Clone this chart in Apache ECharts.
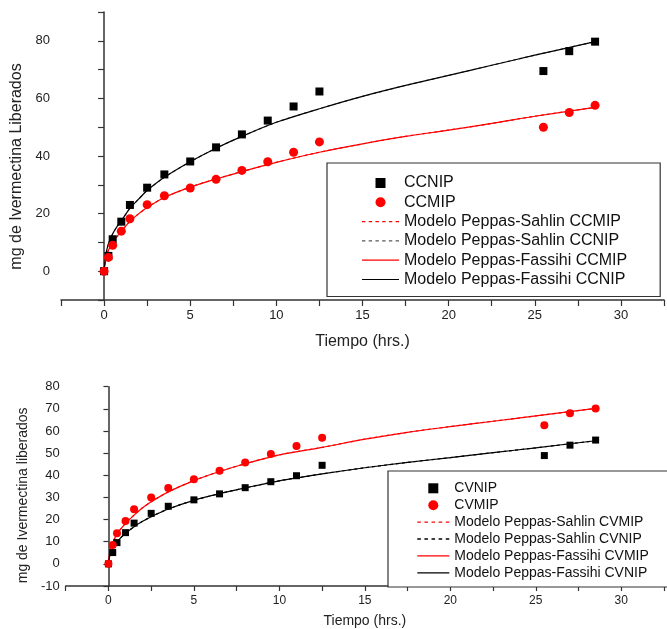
<!DOCTYPE html>
<html>
<head>
<meta charset="utf-8">
<script src="https://cdn.jsdelivr.net/npm/echarts@6/dist/echarts.min.js"></script>
<style>
html,body{margin:0;padding:0;background:#fff;}
#c{width:667px;height:629px;}
</style>
</head>
<body>
<div id="c"></div>
<script>
// ---- Top chart data (CCNIP / CCMIP) ----
const tTop = [0, 0.25, 0.5, 1, 1.5, 2.5, 3.5, 5, 6.5, 8, 9.5, 11, 12.5, 25.5, 27, 28.5];
const ccnip = [0, 5.3, 11.1, 17.2, 23.0, 29.0, 33.6, 38.1, 43.0, 47.5, 52.3, 57.2, 62.4, 69.5, 76.4, 79.7];
const ccmip = [0, 4.8, 9.0, 13.9, 18.2, 23.1, 26.2, 28.9, 31.9, 35.0, 38.0, 41.3, 44.9, 50.0, 55.1, 57.6];

// ---- Bottom chart data (CVNIP / CVMIP) ----
const tBot = [0, 0.25, 0.5, 1, 1.5, 2.5, 3.5, 5, 6.5, 8, 9.5, 11, 12.5, 25.5, 27, 28.5];
const cvnip = [0, 5.1, 9.6, 14.1, 18.4, 22.8, 26.0, 28.9, 31.6, 34.4, 37.1, 39.8, 44.5, 48.9, 53.6, 55.9];
const cvmip = [0, 8.5, 13.8, 19.3, 24.7, 30.0, 34.3, 38.2, 42.1, 45.8, 49.6, 53.2, 56.9, 62.6, 68.0, 70.2];

// ---- Fitted model curves ----
const tFit = [0, 0.1, 0.25, 0.5, 0.75, 1, 1.5, 2, 2.5, 3.5, 5, 6.5, 8, 10, 12.5, 15, 17.5, 20, 22.5, 25, 28.5];
const fitCCNIP = [0, 5.5, 9.5, 13.0, 15.5, 17.5, 21.8, 25.0, 28.0, 32.6, 38.0, 42.7, 46.8, 51.7, 56.4, 60.7, 64.5, 68.0, 71.5, 75.0, 79.7];
const fitCCMIP = [0, 4.5, 7.2, 10.0, 12.0, 13.8, 17.3, 19.9, 22.1, 25.6, 29.2, 32.0, 34.6, 37.8, 41.3, 44.2, 46.8, 49.0, 51.3, 53.8, 56.9];
const fitCVNIP = [0, 4.5, 7.0, 10.0, 12.0, 13.8, 16.8, 19.2, 21.3, 24.8, 28.7, 31.7, 34.3, 37.5, 40.6, 43.4, 45.8, 48.0, 50.2, 52.4, 55.6];
const fitCVMIP = [0, 6.0, 9.5, 13.5, 16.0, 18.3, 22.0, 25.3, 28.0, 32.5, 37.6, 41.7, 45.2, 49.2, 52.6, 56.3, 59.4, 62.0, 64.4, 66.8, 70.2];

// ---- Labels ----
const namesTop = ['CCNIP', 'CCMIP', 'Modelo Peppas-Sahlin CCMIP', 'Modelo Peppas-Sahlin CCNIP', 'Modelo Peppas-Fassihi CCMIP', 'Modelo Peppas-Fassihi CCNIP'];
const namesBot = ['CVNIP', 'CVMIP', 'Modelo Peppas-Sahlin CVMIP', 'Modelo Peppas-Sahlin CVNIP', 'Modelo Peppas-Fassihi CVMIP', 'Modelo Peppas-Fassihi CVNIP'];
const xTitle = 'Tiempo (hrs.)';
const yTitleTop = 'mg de Ivermectina Liberados';
const yTitleBot = 'mg de Ivermectina liberados';

const zip = (xs, ys) => xs.map((x, i) => [x, ys[i]]);
const FONT = '"Liberation Sans", Arial, sans-serif';
const RED = '#ff0000';
const BLK = '#000000';
const GRY = '#555555';
const AXC = '#333333';
const TXT = '#222222';
const SQ = 'path://M0 0H10V10H0Z';
// legend line icons (solid / short-dashed strips)
function solidIcon(w) { return 'path://M0 0H' + w + 'V1.2H0Z'; }
function dashIcon(w) {
  let p = 'path://';
  for (let x = 0; x + 3 <= w; x += 6) p += 'M' + x + ' 0H' + (x + 3) + 'V1.2H' + x + 'Z';
  return p;
}

function xAxis(grid, labelSize, nameSize, nameGap, tickLen) {
  return {
    type: 'value', gridIndex: grid, min: -2.5, max: 32.5, interval: 2.5,
    name: xTitle, nameLocation: 'middle', nameGap: nameGap,
    nameTextStyle: { fontFamily: FONT, fontSize: nameSize, color: TXT },
    axisLine: { show: true, onZero: false, lineStyle: { color: AXC, width: 1.5 } },
    axisTick: { show: true, length: tickLen, lineStyle: { color: AXC, width: 1.2 } },
    splitLine: { show: false },
    axisLabel: {
      fontFamily: FONT, fontSize: labelSize, color: TXT, margin: 9,
      showMinLabel: true, showMaxLabel: true,
      formatter: v => (Math.abs(v % 5) < 1e-9 && v >= 0 && v <= 30) ? String(v) : ''
    }
  };
}

function lineSeries(name, xi, xs, ys, color, dashed) {
  return {
    name: name, type: 'line', xAxisIndex: xi, yAxisIndex: xi,
    data: zip(xs, ys), symbol: 'none', showSymbol: false, smooth: 0.3,
    lineStyle: { color: color, width: 1.2, type: dashed ? [3, 3] : 'solid' },
    itemStyle: { color: color }, z: 2
  };
}

const option = {
  animation: false,
  backgroundColor: '#ffffff',
  grid: [
    { left: 61, top: 12, width: 612, height: 288 },
    { left: 65.7, top: 386.7, width: 615.3, height: 200.3 }
  ],
  xAxis: [
    xAxis(0, 13, 16, 34, 6),
    xAxis(1, 12, 14, 28, 5)
  ],
  yAxis: [
    {
      type: 'value', gridIndex: 0, min: -10, max: 90, interval: 10,
      name: yTitleTop, nameLocation: 'middle', nameGap: 30,
      nameTextStyle: { fontFamily: FONT, fontSize: 16, color: TXT, padding: [0, 21, 0, 0] },
      axisLine: { show: true, lineStyle: { color: AXC, width: 1.5 } },
      axisTick: { show: true, length: 6, lineStyle: { color: AXC, width: 1.2 } },
      splitLine: { show: false },
      axisLabel: {
        fontFamily: FONT, fontSize: 13, color: TXT, margin: 11,
        formatter: v => (v % 20 === 0 && v >= 0 && v <= 80) ? String(v) : ''
      }
    },
    {
      type: 'value', gridIndex: 1, min: -10, max: 80, interval: 10,
      name: yTitleBot, nameLocation: 'middle', nameGap: 29,
      nameTextStyle: { fontFamily: FONT, fontSize: 14, color: TXT, padding: [0, 18, 0, 0] },
      axisLine: { show: true, lineStyle: { color: AXC, width: 1.5 } },
      axisTick: { show: true, length: 5, lineStyle: { color: AXC, width: 1.2 } },
      splitLine: { show: false },
      axisLabel: { fontFamily: FONT, fontSize: 13, color: TXT, margin: 6 }
    }
  ],
  legend: [
    {
      left: 327, top: 163, orient: 'vertical',
      padding: [12, 33, 9, 35], itemGap: 3.3,
      itemWidth: 37, itemHeight: 10, symbolKeepAspect: true,
      backgroundColor: '#ffffff', borderColor: '#333333', borderWidth: 1.2, borderRadius: 0,
      textStyle: { fontFamily: FONT, fontSize: 16, color: '#111111' },
      data: [
        { name: namesTop[0], icon: SQ },
        { name: namesTop[1], icon: 'circle' },
        { name: namesTop[2], icon: dashIcon(37) },
        { name: namesTop[3], icon: dashIcon(37) },
        { name: namesTop[4], icon: solidIcon(37) },
        { name: namesTop[5], icon: solidIcon(37) }
      ],
      selectedMode: false
    },
    {
      left: 388, top: 471, orient: 'vertical',
      padding: [10.3, 30, 7.2, 29.3], itemGap: 2.9,
      itemWidth: 32, itemHeight: 10, symbolKeepAspect: true,
      backgroundColor: '#ffffff', borderColor: '#333333', borderWidth: 1.2, borderRadius: 0,
      textStyle: { fontFamily: FONT, fontSize: 14, color: '#111111' },
      data: [
        { name: namesBot[0], icon: SQ },
        { name: namesBot[1], icon: 'circle' },
        { name: namesBot[2], icon: dashIcon(32) },
        { name: namesBot[3], icon: dashIcon(32) },
        { name: namesBot[4], icon: solidIcon(32) },
        { name: namesBot[5], icon: solidIcon(32) }
      ],
      selectedMode: false
    }
  ],
  series: [
    // top chart
    lineSeries(namesTop[2], 0, tFit, fitCCMIP, RED, true),
    lineSeries(namesTop[3], 0, tFit, fitCCNIP, GRY, true),
    lineSeries(namesTop[4], 0, tFit, fitCCMIP, RED, false),
    lineSeries(namesTop[5], 0, tFit, fitCCNIP, BLK, false),
    { name: namesTop[0], type: 'scatter', xAxisIndex: 0, yAxisIndex: 0, data: zip(tTop, ccnip), symbol: 'rect', symbolSize: 8, itemStyle: { color: BLK, opacity: 1 }, z: 3 },
    { name: namesTop[1], type: 'scatter', xAxisIndex: 0, yAxisIndex: 0, data: zip(tTop, ccmip), symbol: 'circle', symbolSize: 9, itemStyle: { color: RED, opacity: 1 }, z: 3 },
    // bottom chart
    lineSeries(namesBot[2], 1, tFit, fitCVMIP, RED, true),
    lineSeries(namesBot[3], 1, tFit, fitCVNIP, BLK, true),
    lineSeries(namesBot[4], 1, tFit, fitCVMIP, RED, false),
    lineSeries(namesBot[5], 1, tFit, fitCVNIP, BLK, false),
    { name: namesBot[0], type: 'scatter', xAxisIndex: 1, yAxisIndex: 1, data: zip(tBot, cvnip), symbol: 'rect', symbolSize: 7, itemStyle: { color: BLK, opacity: 1 }, z: 3 },
    { name: namesBot[1], type: 'scatter', xAxisIndex: 1, yAxisIndex: 1, data: zip(tBot, cvmip), symbol: 'circle', symbolSize: 8, itemStyle: { color: RED, opacity: 1 }, z: 3 }
  ]
};

const chart = echarts.init(document.getElementById('c'), null, { renderer: 'canvas' });
chart.setOption(option);
</script>
</body>
</html>
